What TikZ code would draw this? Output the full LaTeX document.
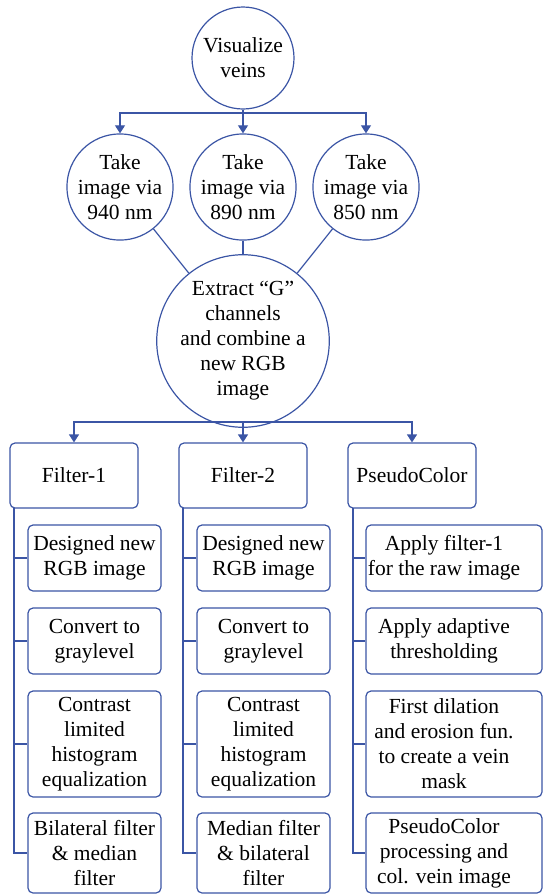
\documentclass[tikz,border=0pt]{standalone}
\usepackage{fontspec}
\setmainfont{Liberation Serif}
\usetikzlibrary{arrows.meta}
\definecolor{lineblue}{RGB}{59,85,165}
\begin{document}
\begin{tikzpicture}[x=1pt,y=-1pt,
  every node/.style={font=\fontsize{21.5}{25}\selectfont, align=center, inner sep=0pt},
  circ/.style={draw=lineblue, line width=1.2pt, circle, minimum size=#1},
  box/.style={draw=lineblue, line width=1.2pt, rounded corners=5pt, minimum width=#1},
  conn/.style={draw=lineblue, line width=1.2pt},
  arr/.style={conn, -{Triangle[length=8pt,width=10pt]}}]
\useasboundingbox (0,0) rectangle (543,895);

% circles
\node[circ=102pt] (V) at (243,58) {Visualize\\veins};
\node[circ=104pt] (T1) at (120,187) {Take\\image via\\940 nm};
\node[circ=104pt] (T2) at (243,187) {Take\\image via\\890 nm};
\node[circ=104pt] (T3) at (366,187) {Take\\image via\\850 nm};
\node[circ=156pt] (E) at (243,341) {Extract “G”\\channels\\and combine a\\new RGB\\image};

\coordinate (j1) at (243,113);
\draw[conn] (V.south) -- (j1);
\draw[arr] (j1) -| (T1.north);
\draw[arr] (j1) -- (T2.north);
\draw[arr] (j1) -| (T3.north);

\draw[conn] (T1) -- (E);
\draw[conn] (T2) -- (E);
\draw[conn] (T3) -- (E);

% top boxes
\node[box=128pt, minimum height=65pt] (F1) at (74,475.5) {Filter-1};
\node[box=128pt, minimum height=65pt] (F2) at (243,475.5) {Filter-2};
\node[box=128pt, minimum height=65pt] (P) at (412,475.5) {PseudoColor};

\coordinate (j2) at (243,422);
\draw[conn] (E.south) -- (j2);
\draw[arr] (j2) -| (F1.north);
\draw[arr] (j2) -- (F2.north);
\draw[arr] (j2) -| (P.north);

% column 1
\node[box=133pt, minimum height=66pt] (A1) at (94.5,558) {Designed new\\RGB image};
\node[box=133pt, minimum height=66pt] (A2) at (94.5,641) {Convert to\\graylevel};
\node[box=133pt, minimum height=106pt] (A3) at (94.5,744) {Contrast\\limited\\histogram\\equalization};
\node[box=133pt, minimum height=80pt] (A4) at (94.5,853) {Bilateral filter\\\& median\\filter};

% column 2
\node[box=133pt, minimum height=66pt] (B1) at (263.5,558) {Designed new\\RGB image};
\node[box=133pt, minimum height=66pt] (B2) at (263.5,641) {Convert to\\graylevel};
\node[box=133pt, minimum height=106pt] (B3) at (263.5,744) {Contrast\\limited\\histogram\\equalization};
\node[box=133pt, minimum height=80pt] (B4) at (263.5,853) {Median filter\\\& bilateral\\filter};

% column 3 (boxes wider, text offset)
\node[box=176pt, minimum height=66pt] (C1) at (454,558) {};
\node[box=176pt, minimum height=66pt] (C2) at (454,641) {};
\node[box=176pt, minimum height=106pt] (C3) at (454,744) {};
\node[box=176pt, minimum height=80pt] (C4) at (454,853) {};
\node (C1t) at (444,558) {Apply filter-1\\for the raw image};
\node (C2t) at (444,641) {Apply adaptive\\thresholding};
\node (C3t) at (444,744) {First dilation\\and erosion fun.\\to create a vein\\mask};
\node (C4t) at (444,853) {PseudoColor\\processing and\\col. vein image};

% trunks
\coordinate (t1) at (14,508);
\coordinate (t2) at (183,508);
\coordinate (t3) at (353,508);
\draw[conn] (t1) |- (A4.west);
\draw[conn] (A1.west -| t1) -- (A1.west);
\draw[conn] (A2.west -| t1) -- (A2.west);
\draw[conn] (A3.west -| t1) -- (A3.west);
\draw[conn] (t2) |- (B4.west);
\draw[conn] (B1.west -| t2) -- (B1.west);
\draw[conn] (B2.west -| t2) -- (B2.west);
\draw[conn] (B3.west -| t2) -- (B3.west);
\draw[conn] (t3) |- (C4.west);
\draw[conn] (C1.west -| t3) -- (C1.west);
\draw[conn] (C2.west -| t3) -- (C2.west);
\draw[conn] (C3.west -| t3) -- (C3.west);
\end{tikzpicture}
\end{document}
